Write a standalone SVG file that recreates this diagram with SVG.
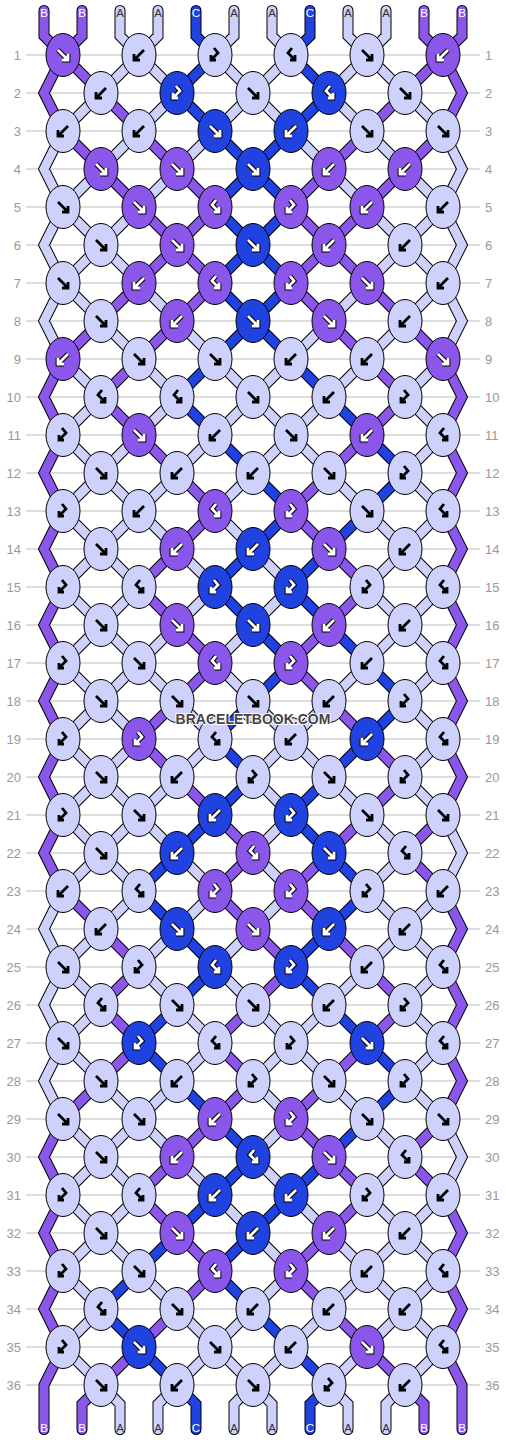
<svg xmlns="http://www.w3.org/2000/svg" width="506" height="1440" viewBox="0 0 506 1440">
<style>
.o{fill:none;stroke:#000;stroke-width:11;stroke-linecap:round;stroke-linejoin:miter}
.cA{fill:none;stroke:#cdd1fb;stroke-width:9;stroke-linecap:round;stroke-linejoin:miter}
.cB{fill:none;stroke:#8b57eb;stroke-width:9;stroke-linecap:round;stroke-linejoin:miter}
.cC{fill:none;stroke:#2042e0;stroke-width:9;stroke-linecap:round;stroke-linejoin:miter}
.kA{fill:#cdd1fb;stroke:#000;stroke-width:1}
.kB{fill:#8b57eb;stroke:#000;stroke-width:1}
.kC{fill:#2042e0;stroke:#000;stroke-width:1}
.ak{fill:none;stroke:#000;stroke-width:2.8}
.ao{fill:none;stroke:#000;stroke-width:4.8}
.aw{fill:none;stroke:#fff;stroke-width:2.8}
.grid{fill:none;stroke:#bbb;stroke-width:1}
.rn{font-family:"Liberation Sans",Arial,sans-serif;font-size:13px;fill:#999}
.l{text-anchor:end}
.tl{font-family:"Liberation Sans",Arial,sans-serif;font-size:11.5px;text-anchor:middle}
.lw{fill:#fff}
.ld{fill:#333}
.wm{font-family:"Liberation Sans",Arial,sans-serif;font-size:14px;font-weight:bold;fill:#444;text-anchor:middle;stroke:#fff;stroke-width:2;paint-order:stroke}
</style>
<defs>
<path id="sB" d="M44 10.5V36L63 55M82 10.5V36L63 55M424 10.5V36L443 55M462 10.5V36L443 55
M63 55l38 38M443 55l-38 38M101 93l38 38M405 93l-38 38M63 131l38 38M139 131l38 38M367 131l-38 38M443 131l-38 38
M101 169l38 38M177 169l38 38M329 169l-38 38M405 169l-38 38M139 207l38 38M215 207l-38 38M291 207l38 38M367 207l-38 38
M177 245l-38 38M177 245l38 38M329 245l-38 38M329 245l38 38M139 283l-38 38M215 283l-38 38M291 283l38 38M367 283l38 38
M101 321l-38 38M177 321l-38 38M329 321l38 38M405 321l38 38M139 359l-38 38M367 359l38 38M101 397l38 38M405 397l-38 38
M139 435l38 38M367 435l-38 38M177 473l38 38M329 473l-38 38M215 511l-38 38M291 511l38 38M177 549l-38 38M329 549l38 38
M139 587l38 38M367 587l-38 38M177 625l38 38M329 625l-38 38M215 663l-38 38M291 663l38 38M177 701l-38 38M329 701l38 38
M139 739l38 38M367 739l38 38M177 777l38 38M405 777l-38 38M215 815l38 38M367 815l-38 38M443 815l-38 38
M253 853l-38 38M329 853l-38 38M405 853l38 38M63 891l38 38M215 891l38 38M291 891l38 38M101 929l38 38M253 929l38 38M329 929l38 38
M139 967l-38 38M291 967l-38 38M367 967l38 38M101 1005l38 38M253 1005l-38 38M405 1005l-38 38M139 1043l-38 38M215 1043l38 38M367 1043l-38 38
M101 1081l-38 38M253 1081l-38 38M329 1081l-38 38M215 1119l-38 38M291 1119l38 38M443 1119l-38 38M177 1157l-38 38M329 1157l38 38M405 1157l38 38
M139 1195l38 38M367 1195l-38 38M177 1233l38 38M329 1233l-38 38M215 1271l-38 38M291 1271l38 38M177 1309l-38 38M329 1309l38 38
M139 1347l-38 38M367 1347l38 38M101 1385L82 1404V1429.5M405 1385L424 1404V1429.5
M63 55L44 93L63 131M63 359L44 397L63 435M63 435L44 473L63 511M63 511L44 549L63 587M63 587L44 625L63 663M63 663L44 701L63 739M63 739L44 777L63 815M63 815L44 853L63 891M63 1119L44 1157L63 1195M63 1195L44 1233L63 1271M63 1271L44 1309L63 1347M63 1347L44 1385V1429.5
M443 55L462 93L443 131M443 359L462 397L443 435M443 435L462 473L443 511M443 511L462 549L443 587M443 587L462 625L443 663M443 663L462 701L443 739M443 739L462 777L443 815M443 891L462 929L443 967M443 967L462 1005L443 1043M443 1043L462 1081L443 1119M443 1195L462 1233L443 1271M443 1271L462 1309L443 1347M443 1347L462 1385V1429.5"/>
<path id="sA" d="M120 10.5V36L139 55M158 10.5V36L139 55M234 10.5V36L215 55M272 10.5V36L291 55M348 10.5V36L367 55M386 10.5V36L367 55
M139 55l-38 38M139 55l38 38M215 55l38 38M291 55l-38 38M367 55l-38 38M367 55l38 38
M101 93l-38 38M177 93l-38 38M253 93l-38 38M253 93l38 38M329 93l38 38M405 93l38 38
M139 131l-38 38M215 131l-38 38M291 131l38 38M367 131l38 38
M101 169l-38 38M177 169l-38 38M329 169l38 38M405 169l38 38
M63 207l38 38M139 207l-38 38M367 207l38 38M443 207l-38 38
M101 245l-38 38M101 245l38 38M405 245l-38 38M405 245l38 38
M63 283l38 38M139 283l38 38M367 283l-38 38M443 283l-38 38
M101 321l38 38M177 321l38 38M329 321l-38 38M405 321l-38 38
M63 359l38 38M139 359l38 38M215 359l38 38M291 359l-38 38M367 359l-38 38M443 359l-38 38
M101 397l-38 38M177 397l-38 38M253 397l-38 38M253 397l38 38M329 397l-38 38M405 397l38 38
M63 435l38 38M139 435l-38 38M215 435l-38 38M291 435l-38 38M291 435l38 38M443 435l-38 38
M101 473l-38 38M101 473l38 38M177 473l-38 38M253 473l-38 38M329 473l38 38M405 473l38 38
M63 511l38 38M139 511l-38 38M139 511l38 38M215 511l38 38M367 511l38 38M443 511l-38 38
M101 549l-38 38M101 549l38 38M177 549l38 38M253 549l38 38M405 549l-38 38M405 549l38 38
M63 587l38 38M139 587l-38 38M215 587l-38 38M291 587l-38 38M367 587l38 38M443 587l-38 38
M101 625l-38 38M101 625l38 38M177 625l-38 38M253 625l-38 38M405 625l-38 38M405 625l38 38
M63 663l38 38M139 663l-38 38M139 663l38 38M215 663l38 38M367 663l-38 38M443 663l-38 38
M101 701l-38 38M101 701l38 38M177 701l38 38M253 701l38 38M329 701l-38 38M405 701l38 38
M63 739l38 38M139 739l-38 38M215 739l-38 38M291 739l-38 38M291 739l38 38M443 739l-38 38
M101 777l-38 38M101 777l38 38M177 777l-38 38M253 777l38 38M329 777l38 38M405 777l38 38
M63 815l38 38M139 815l-38 38M139 815l38 38M291 815l-38 38M367 815l38 38
M101 853l-38 38M101 853l38 38M177 853l38 38M253 853l38 38M405 853l-38 38
M139 891l-38 38M215 891l-38 38M291 891l-38 38M367 891l38 38M443 891l-38 38
M101 929l-38 38M177 929l-38 38M253 929l-38 38M405 929l-38 38M405 929l38 38
M63 967l38 38M139 967l38 38M215 967l38 38M367 967l-38 38M443 967l-38 38
M101 1005l-38 38M177 1005l38 38M253 1005l38 38M329 1005l-38 38M405 1005l38 38
M63 1043l38 38M215 1043l-38 38M291 1043l-38 38M291 1043l38 38M443 1043l-38 38
M101 1081l38 38M177 1081l-38 38M253 1081l38 38M329 1081l38 38M405 1081l38 38
M63 1119l38 38M139 1119l-38 38M139 1119l38 38M291 1119l-38 38M367 1119l38 38
M101 1157l-38 38M101 1157l38 38M177 1157l38 38M253 1157l38 38M405 1157l-38 38
M63 1195l38 38M139 1195l-38 38M215 1195l38 38M291 1195l38 38M367 1195l38 38M443 1195l-38 38
M101 1233l-38 38M101 1233l38 38M253 1233l38 38M329 1233l38 38M405 1233l-38 38M405 1233l38 38
M63 1271l38 38M139 1271l38 38M291 1271l-38 38M367 1271l-38 38M367 1271l38 38M443 1271l-38 38
M101 1309l-38 38M177 1309l38 38M253 1309l-38 38M329 1309l-38 38M405 1309l-38 38M405 1309l38 38
M63 1347l38 38M215 1347l-38 38M215 1347l38 38M291 1347l-38 38M367 1347l-38 38M443 1347l-38 38
M101 1385L120 1404V1429.5M177 1385L158 1404V1429.5M253 1385L234 1404V1429.5M253 1385L272 1404V1429.5M329 1385L348 1404V1429.5M405 1385L386 1404V1429.5
M63 131L44 169L63 207M63 207L44 245L63 283M63 283L44 321L63 359M63 891L44 929L63 967M63 967L44 1005L63 1043M63 1043L44 1081L63 1119
M443 131L462 169L443 207M443 207L462 245L443 283M443 283L462 321L443 359M443 815L462 853L443 891M443 1119L462 1157L443 1195"/>
<path id="sC" d="M196 10.5V36L215 55M310 10.5V36L291 55
M215 55l-38 38M291 55l38 38M177 93l38 38M329 93l-38 38M215 131l38 38M291 131l-38 38M253 169l-38 38M253 169l38 38
M215 207l38 38M291 207l-38 38M253 245l-38 38M253 245l38 38M215 283l38 38M291 283l-38 38M253 321l-38 38M253 321l38 38
M215 359l-38 38M291 359l38 38M177 397l38 38M329 397l38 38M215 435l38 38M367 435l38 38M253 473l38 38M405 473l-38 38
M291 511l-38 38M367 511l-38 38M253 549l-38 38M329 549l-38 38M215 587l38 38M291 587l38 38M253 625l38 38M329 625l38 38
M291 663l-38 38M367 663l38 38M253 701l-38 38M405 701l-38 38M215 739l38 38M367 739l-38 38M253 777l-38 38M329 777l-38 38
M215 815l-38 38M291 815l38 38M177 853l-38 38M329 853l38 38M139 891l38 38M367 891l-38 38M177 929l38 38M329 929l-38 38
M215 967l-38 38M291 967l38 38M177 1005l-38 38M329 1005l38 38M139 1043l38 38M367 1043l38 38M177 1081l38 38M405 1081l-38 38
M215 1119l38 38M367 1119l-38 38M253 1157l-38 38M329 1157l-38 38M215 1195l-38 38M291 1195l-38 38M177 1233l-38 38M253 1233l-38 38
M139 1271l-38 38M215 1271l38 38M101 1309l38 38M253 1309l38 38M139 1347l38 38M291 1347l38 38
M177 1385L196 1404V1429.5M329 1385L310 1404V1429.5"/>
<ellipse id="e" rx="17" ry="21.5"/>
<path id="pF" d="M-5 -5L5 5M-1 5H5V-1"/>
<path id="pK" d="M5 -5L-5 5M1 5H-5V-1"/>
<path id="pP" d="M1 -7L-3 -2L4 5M-1 5H4V0"/>
<path id="pQ" d="M-1 -7L3 -2L-4 5M1 5H-4V0"/>
<g id="F"><use href="#pF" class="ak"/></g>
<g id="K"><use href="#pK" class="ak"/></g>
<g id="P"><use href="#pP" class="ak"/></g>
<g id="Q"><use href="#pQ" class="ak"/></g>
<g id="Fw"><use href="#pF" class="ao"/><use href="#pF" class="aw"/></g>
<g id="Kw"><use href="#pK" class="ao"/><use href="#pK" class="aw"/></g>
<g id="Pw"><use href="#pP" class="ao"/><use href="#pP" class="aw"/></g>
<g id="Qw"><use href="#pQ" class="ao"/><use href="#pQ" class="aw"/></g>
</defs>
<rect width="506" height="1440" fill="#fff"/>
<g id="grid">
<path class="grid" d="M26 55H480M26 93H480M26 131H480M26 169H480M26 207H480M26 245H480M26 283H480M26 321H480M26 359H480M26 397H480M26 435H480M26 473H480M26 511H480M26 549H480M26 587H480M26 625H480M26 663H480M26 701H480M26 739H480M26 777H480M26 815H480M26 853H480M26 891H480M26 929H480M26 967H480M26 1005H480M26 1043H480M26 1081H480M26 1119H480M26 1157H480M26 1195H480M26 1233H480M26 1271H480M26 1309H480M26 1347H480M26 1385H480"/>
<g class="rn l">
<text x="21" y="60">1</text><text x="21" y="98">2</text><text x="21" y="136">3</text><text x="21" y="174">4</text><text x="21" y="212">5</text><text x="21" y="250">6</text><text x="21" y="288">7</text><text x="21" y="326">8</text><text x="21" y="364">9</text><text x="21" y="402">10</text><text x="21" y="440">11</text><text x="21" y="478">12</text><text x="21" y="516">13</text><text x="21" y="554">14</text><text x="21" y="592">15</text><text x="21" y="630">16</text><text x="21" y="668">17</text><text x="21" y="706">18</text><text x="21" y="744">19</text><text x="21" y="782">20</text><text x="21" y="820">21</text><text x="21" y="858">22</text><text x="21" y="896">23</text><text x="21" y="934">24</text><text x="21" y="972">25</text><text x="21" y="1010">26</text><text x="21" y="1048">27</text><text x="21" y="1086">28</text><text x="21" y="1124">29</text><text x="21" y="1162">30</text><text x="21" y="1200">31</text><text x="21" y="1238">32</text><text x="21" y="1276">33</text><text x="21" y="1314">34</text><text x="21" y="1352">35</text><text x="21" y="1390">36</text>
</g>
<g class="rn">
<text x="485" y="60">1</text><text x="485" y="98">2</text><text x="485" y="136">3</text><text x="485" y="174">4</text><text x="485" y="212">5</text><text x="485" y="250">6</text><text x="485" y="288">7</text><text x="485" y="326">8</text><text x="485" y="364">9</text><text x="485" y="402">10</text><text x="485" y="440">11</text><text x="485" y="478">12</text><text x="485" y="516">13</text><text x="485" y="554">14</text><text x="485" y="592">15</text><text x="485" y="630">16</text><text x="485" y="668">17</text><text x="485" y="706">18</text><text x="485" y="744">19</text><text x="485" y="782">20</text><text x="485" y="820">21</text><text x="485" y="858">22</text><text x="485" y="896">23</text><text x="485" y="934">24</text><text x="485" y="972">25</text><text x="485" y="1010">26</text><text x="485" y="1048">27</text><text x="485" y="1086">28</text><text x="485" y="1124">29</text><text x="485" y="1162">30</text><text x="485" y="1200">31</text><text x="485" y="1238">32</text><text x="485" y="1276">33</text><text x="485" y="1314">34</text><text x="485" y="1352">35</text><text x="485" y="1390">36</text>
</g>
</g>
<g id="connectors">
<use href="#sA" class="o"/><use href="#sB" class="o"/><use href="#sC" class="o"/>
<use href="#sA" class="cA"/><use href="#sB" class="cB"/><use href="#sC" class="cC"/>
</g>
<g id="string-labels" class="tl">
<text class="lw" x="44" y="16.5">B</text><text class="lw" x="82" y="16.5">B</text><text class="ld" x="120" y="16.5">A</text><text class="ld" x="158" y="16.5">A</text><text class="lw" x="196" y="16.5">C</text><text class="ld" x="234" y="16.5">A</text><text class="ld" x="272" y="16.5">A</text><text class="lw" x="310" y="16.5">C</text><text class="ld" x="348" y="16.5">A</text><text class="ld" x="386" y="16.5">A</text><text class="lw" x="424" y="16.5">B</text><text class="lw" x="462" y="16.5">B</text>
<text class="lw" x="44" y="1432">B</text><text class="lw" x="82" y="1432">B</text><text class="ld" x="120" y="1432">A</text><text class="ld" x="158" y="1432">A</text><text class="lw" x="196" y="1432">C</text><text class="ld" x="234" y="1432">A</text><text class="ld" x="272" y="1432">A</text><text class="lw" x="310" y="1432">C</text><text class="ld" x="348" y="1432">A</text><text class="ld" x="386" y="1432">A</text><text class="lw" x="424" y="1432">B</text><text class="lw" x="462" y="1432">B</text>
</g>
<g id="knots">
<g id="r1k1" transform="translate(63 55)"><use href="#e" class="kB"/><use href="#Fw"/></g>
<g id="r1k2" transform="translate(139 55)"><use href="#e" class="kA"/><use href="#K"/></g>
<g id="r1k3" transform="translate(215 55)"><use href="#e" class="kA"/><use href="#Q"/></g>
<g id="r1k4" transform="translate(291 55)"><use href="#e" class="kA"/><use href="#P"/></g>
<g id="r1k5" transform="translate(367 55)"><use href="#e" class="kA"/><use href="#F"/></g>
<g id="r1k6" transform="translate(443 55)"><use href="#e" class="kB"/><use href="#Kw"/></g>
<g id="r2k1" transform="translate(101 93)"><use href="#e" class="kA"/><use href="#K"/></g>
<g id="r2k2" transform="translate(177 93)"><use href="#e" class="kC"/><use href="#Qw"/></g>
<g id="r2k3" transform="translate(253 93)"><use href="#e" class="kA"/><use href="#F"/></g>
<g id="r2k4" transform="translate(329 93)"><use href="#e" class="kC"/><use href="#Pw"/></g>
<g id="r2k5" transform="translate(405 93)"><use href="#e" class="kA"/><use href="#F"/></g>
<g id="r3k1" transform="translate(63 131)"><use href="#e" class="kA"/><use href="#K"/></g>
<g id="r3k2" transform="translate(139 131)"><use href="#e" class="kA"/><use href="#K"/></g>
<g id="r3k3" transform="translate(215 131)"><use href="#e" class="kC"/><use href="#Fw"/></g>
<g id="r3k4" transform="translate(291 131)"><use href="#e" class="kC"/><use href="#Kw"/></g>
<g id="r3k5" transform="translate(367 131)"><use href="#e" class="kA"/><use href="#F"/></g>
<g id="r3k6" transform="translate(443 131)"><use href="#e" class="kA"/><use href="#F"/></g>
<g id="r4k1" transform="translate(101 169)"><use href="#e" class="kB"/><use href="#Fw"/></g>
<g id="r4k2" transform="translate(177 169)"><use href="#e" class="kB"/><use href="#Fw"/></g>
<g id="r4k3" transform="translate(253 169)"><use href="#e" class="kC"/><use href="#Fw"/></g>
<g id="r4k4" transform="translate(329 169)"><use href="#e" class="kB"/><use href="#Kw"/></g>
<g id="r4k5" transform="translate(405 169)"><use href="#e" class="kB"/><use href="#Kw"/></g>
<g id="r5k1" transform="translate(63 207)"><use href="#e" class="kA"/><use href="#F"/></g>
<g id="r5k2" transform="translate(139 207)"><use href="#e" class="kB"/><use href="#Fw"/></g>
<g id="r5k3" transform="translate(215 207)"><use href="#e" class="kB"/><use href="#Pw"/></g>
<g id="r5k4" transform="translate(291 207)"><use href="#e" class="kB"/><use href="#Qw"/></g>
<g id="r5k5" transform="translate(367 207)"><use href="#e" class="kB"/><use href="#Kw"/></g>
<g id="r5k6" transform="translate(443 207)"><use href="#e" class="kA"/><use href="#K"/></g>
<g id="r6k1" transform="translate(101 245)"><use href="#e" class="kA"/><use href="#F"/></g>
<g id="r6k2" transform="translate(177 245)"><use href="#e" class="kB"/><use href="#Fw"/></g>
<g id="r6k3" transform="translate(253 245)"><use href="#e" class="kC"/><use href="#Fw"/></g>
<g id="r6k4" transform="translate(329 245)"><use href="#e" class="kB"/><use href="#Kw"/></g>
<g id="r6k5" transform="translate(405 245)"><use href="#e" class="kA"/><use href="#K"/></g>
<g id="r7k1" transform="translate(63 283)"><use href="#e" class="kA"/><use href="#F"/></g>
<g id="r7k2" transform="translate(139 283)"><use href="#e" class="kB"/><use href="#Kw"/></g>
<g id="r7k3" transform="translate(215 283)"><use href="#e" class="kB"/><use href="#Pw"/></g>
<g id="r7k4" transform="translate(291 283)"><use href="#e" class="kB"/><use href="#Qw"/></g>
<g id="r7k5" transform="translate(367 283)"><use href="#e" class="kB"/><use href="#Fw"/></g>
<g id="r7k6" transform="translate(443 283)"><use href="#e" class="kA"/><use href="#K"/></g>
<g id="r8k1" transform="translate(101 321)"><use href="#e" class="kA"/><use href="#F"/></g>
<g id="r8k2" transform="translate(177 321)"><use href="#e" class="kB"/><use href="#Kw"/></g>
<g id="r8k3" transform="translate(253 321)"><use href="#e" class="kC"/><use href="#Fw"/></g>
<g id="r8k4" transform="translate(329 321)"><use href="#e" class="kB"/><use href="#Fw"/></g>
<g id="r8k5" transform="translate(405 321)"><use href="#e" class="kA"/><use href="#K"/></g>
<g id="r9k1" transform="translate(63 359)"><use href="#e" class="kB"/><use href="#Kw"/></g>
<g id="r9k2" transform="translate(139 359)"><use href="#e" class="kA"/><use href="#F"/></g>
<g id="r9k3" transform="translate(215 359)"><use href="#e" class="kA"/><use href="#F"/></g>
<g id="r9k4" transform="translate(291 359)"><use href="#e" class="kA"/><use href="#K"/></g>
<g id="r9k5" transform="translate(367 359)"><use href="#e" class="kA"/><use href="#K"/></g>
<g id="r9k6" transform="translate(443 359)"><use href="#e" class="kB"/><use href="#Fw"/></g>
<g id="r10k1" transform="translate(101 397)"><use href="#e" class="kA"/><use href="#P"/></g>
<g id="r10k2" transform="translate(177 397)"><use href="#e" class="kA"/><use href="#P"/></g>
<g id="r10k3" transform="translate(253 397)"><use href="#e" class="kA"/><use href="#F"/></g>
<g id="r10k4" transform="translate(329 397)"><use href="#e" class="kA"/><use href="#K"/></g>
<g id="r10k5" transform="translate(405 397)"><use href="#e" class="kA"/><use href="#Q"/></g>
<g id="r11k1" transform="translate(63 435)"><use href="#e" class="kA"/><use href="#Q"/></g>
<g id="r11k2" transform="translate(139 435)"><use href="#e" class="kB"/><use href="#Fw"/></g>
<g id="r11k3" transform="translate(215 435)"><use href="#e" class="kA"/><use href="#K"/></g>
<g id="r11k4" transform="translate(291 435)"><use href="#e" class="kA"/><use href="#F"/></g>
<g id="r11k5" transform="translate(367 435)"><use href="#e" class="kB"/><use href="#Kw"/></g>
<g id="r11k6" transform="translate(443 435)"><use href="#e" class="kA"/><use href="#P"/></g>
<g id="r12k1" transform="translate(101 473)"><use href="#e" class="kA"/><use href="#F"/></g>
<g id="r12k2" transform="translate(177 473)"><use href="#e" class="kA"/><use href="#K"/></g>
<g id="r12k3" transform="translate(253 473)"><use href="#e" class="kA"/><use href="#K"/></g>
<g id="r12k4" transform="translate(329 473)"><use href="#e" class="kA"/><use href="#F"/></g>
<g id="r12k5" transform="translate(405 473)"><use href="#e" class="kA"/><use href="#Q"/></g>
<g id="r13k1" transform="translate(63 511)"><use href="#e" class="kA"/><use href="#Q"/></g>
<g id="r13k2" transform="translate(139 511)"><use href="#e" class="kA"/><use href="#K"/></g>
<g id="r13k3" transform="translate(215 511)"><use href="#e" class="kB"/><use href="#Pw"/></g>
<g id="r13k4" transform="translate(291 511)"><use href="#e" class="kB"/><use href="#Qw"/></g>
<g id="r13k5" transform="translate(367 511)"><use href="#e" class="kA"/><use href="#F"/></g>
<g id="r13k6" transform="translate(443 511)"><use href="#e" class="kA"/><use href="#P"/></g>
<g id="r14k1" transform="translate(101 549)"><use href="#e" class="kA"/><use href="#F"/></g>
<g id="r14k2" transform="translate(177 549)"><use href="#e" class="kB"/><use href="#Kw"/></g>
<g id="r14k3" transform="translate(253 549)"><use href="#e" class="kC"/><use href="#Kw"/></g>
<g id="r14k4" transform="translate(329 549)"><use href="#e" class="kB"/><use href="#Fw"/></g>
<g id="r14k5" transform="translate(405 549)"><use href="#e" class="kA"/><use href="#K"/></g>
<g id="r15k1" transform="translate(63 587)"><use href="#e" class="kA"/><use href="#Q"/></g>
<g id="r15k2" transform="translate(139 587)"><use href="#e" class="kA"/><use href="#P"/></g>
<g id="r15k3" transform="translate(215 587)"><use href="#e" class="kC"/><use href="#Qw"/></g>
<g id="r15k4" transform="translate(291 587)"><use href="#e" class="kC"/><use href="#Qw"/></g>
<g id="r15k5" transform="translate(367 587)"><use href="#e" class="kA"/><use href="#Q"/></g>
<g id="r15k6" transform="translate(443 587)"><use href="#e" class="kA"/><use href="#P"/></g>
<g id="r16k1" transform="translate(101 625)"><use href="#e" class="kA"/><use href="#F"/></g>
<g id="r16k2" transform="translate(177 625)"><use href="#e" class="kB"/><use href="#Fw"/></g>
<g id="r16k3" transform="translate(253 625)"><use href="#e" class="kC"/><use href="#Fw"/></g>
<g id="r16k4" transform="translate(329 625)"><use href="#e" class="kB"/><use href="#Kw"/></g>
<g id="r16k5" transform="translate(405 625)"><use href="#e" class="kA"/><use href="#K"/></g>
<g id="r17k1" transform="translate(63 663)"><use href="#e" class="kA"/><use href="#Q"/></g>
<g id="r17k2" transform="translate(139 663)"><use href="#e" class="kA"/><use href="#F"/></g>
<g id="r17k3" transform="translate(215 663)"><use href="#e" class="kB"/><use href="#Pw"/></g>
<g id="r17k4" transform="translate(291 663)"><use href="#e" class="kB"/><use href="#Qw"/></g>
<g id="r17k5" transform="translate(367 663)"><use href="#e" class="kA"/><use href="#K"/></g>
<g id="r17k6" transform="translate(443 663)"><use href="#e" class="kA"/><use href="#P"/></g>
<g id="r18k1" transform="translate(101 701)"><use href="#e" class="kA"/><use href="#F"/></g>
<g id="r18k2" transform="translate(177 701)"><use href="#e" class="kA"/><use href="#F"/></g>
<g id="r18k3" transform="translate(253 701)"><use href="#e" class="kA"/><use href="#F"/></g>
<g id="r18k4" transform="translate(329 701)"><use href="#e" class="kA"/><use href="#K"/></g>
<g id="r18k5" transform="translate(405 701)"><use href="#e" class="kA"/><use href="#Q"/></g>
<g id="r19k1" transform="translate(63 739)"><use href="#e" class="kA"/><use href="#Q"/></g>
<g id="r19k2" transform="translate(139 739)"><use href="#e" class="kB"/><use href="#Qw"/></g>
<g id="r19k3" transform="translate(215 739)"><use href="#e" class="kA"/><use href="#P"/></g>
<g id="r19k4" transform="translate(291 739)"><use href="#e" class="kA"/><use href="#K"/></g>
<g id="r19k5" transform="translate(367 739)"><use href="#e" class="kC"/><use href="#Kw"/></g>
<g id="r19k6" transform="translate(443 739)"><use href="#e" class="kA"/><use href="#P"/></g>
<g id="r20k1" transform="translate(101 777)"><use href="#e" class="kA"/><use href="#F"/></g>
<g id="r20k2" transform="translate(177 777)"><use href="#e" class="kA"/><use href="#K"/></g>
<g id="r20k3" transform="translate(253 777)"><use href="#e" class="kA"/><use href="#Q"/></g>
<g id="r20k4" transform="translate(329 777)"><use href="#e" class="kA"/><use href="#F"/></g>
<g id="r20k5" transform="translate(405 777)"><use href="#e" class="kA"/><use href="#Q"/></g>
<g id="r21k1" transform="translate(63 815)"><use href="#e" class="kA"/><use href="#Q"/></g>
<g id="r21k2" transform="translate(139 815)"><use href="#e" class="kA"/><use href="#F"/></g>
<g id="r21k3" transform="translate(215 815)"><use href="#e" class="kC"/><use href="#Kw"/></g>
<g id="r21k4" transform="translate(291 815)"><use href="#e" class="kC"/><use href="#Qw"/></g>
<g id="r21k5" transform="translate(367 815)"><use href="#e" class="kA"/><use href="#F"/></g>
<g id="r21k6" transform="translate(443 815)"><use href="#e" class="kA"/><use href="#F"/></g>
<g id="r22k1" transform="translate(101 853)"><use href="#e" class="kA"/><use href="#F"/></g>
<g id="r22k2" transform="translate(177 853)"><use href="#e" class="kC"/><use href="#Kw"/></g>
<g id="r22k3" transform="translate(253 853)"><use href="#e" class="kB"/><use href="#Pw"/></g>
<g id="r22k4" transform="translate(329 853)"><use href="#e" class="kC"/><use href="#Fw"/></g>
<g id="r22k5" transform="translate(405 853)"><use href="#e" class="kA"/><use href="#P"/></g>
<g id="r23k1" transform="translate(63 891)"><use href="#e" class="kA"/><use href="#K"/></g>
<g id="r23k2" transform="translate(139 891)"><use href="#e" class="kA"/><use href="#P"/></g>
<g id="r23k3" transform="translate(215 891)"><use href="#e" class="kB"/><use href="#Qw"/></g>
<g id="r23k4" transform="translate(291 891)"><use href="#e" class="kB"/><use href="#Qw"/></g>
<g id="r23k5" transform="translate(367 891)"><use href="#e" class="kA"/><use href="#Q"/></g>
<g id="r23k6" transform="translate(443 891)"><use href="#e" class="kA"/><use href="#K"/></g>
<g id="r24k1" transform="translate(101 929)"><use href="#e" class="kA"/><use href="#K"/></g>
<g id="r24k2" transform="translate(177 929)"><use href="#e" class="kC"/><use href="#Fw"/></g>
<g id="r24k3" transform="translate(253 929)"><use href="#e" class="kB"/><use href="#Fw"/></g>
<g id="r24k4" transform="translate(329 929)"><use href="#e" class="kC"/><use href="#Kw"/></g>
<g id="r24k5" transform="translate(405 929)"><use href="#e" class="kA"/><use href="#K"/></g>
<g id="r25k1" transform="translate(63 967)"><use href="#e" class="kA"/><use href="#F"/></g>
<g id="r25k2" transform="translate(139 967)"><use href="#e" class="kA"/><use href="#Q"/></g>
<g id="r25k3" transform="translate(215 967)"><use href="#e" class="kC"/><use href="#Pw"/></g>
<g id="r25k4" transform="translate(291 967)"><use href="#e" class="kC"/><use href="#Qw"/></g>
<g id="r25k5" transform="translate(367 967)"><use href="#e" class="kA"/><use href="#K"/></g>
<g id="r25k6" transform="translate(443 967)"><use href="#e" class="kA"/><use href="#P"/></g>
<g id="r26k1" transform="translate(101 1005)"><use href="#e" class="kA"/><use href="#P"/></g>
<g id="r26k2" transform="translate(177 1005)"><use href="#e" class="kA"/><use href="#F"/></g>
<g id="r26k3" transform="translate(253 1005)"><use href="#e" class="kA"/><use href="#F"/></g>
<g id="r26k4" transform="translate(329 1005)"><use href="#e" class="kA"/><use href="#K"/></g>
<g id="r26k5" transform="translate(405 1005)"><use href="#e" class="kA"/><use href="#Q"/></g>
<g id="r27k1" transform="translate(63 1043)"><use href="#e" class="kA"/><use href="#F"/></g>
<g id="r27k2" transform="translate(139 1043)"><use href="#e" class="kC"/><use href="#Qw"/></g>
<g id="r27k3" transform="translate(215 1043)"><use href="#e" class="kA"/><use href="#P"/></g>
<g id="r27k4" transform="translate(291 1043)"><use href="#e" class="kA"/><use href="#Q"/></g>
<g id="r27k5" transform="translate(367 1043)"><use href="#e" class="kC"/><use href="#Fw"/></g>
<g id="r27k6" transform="translate(443 1043)"><use href="#e" class="kA"/><use href="#P"/></g>
<g id="r28k1" transform="translate(101 1081)"><use href="#e" class="kA"/><use href="#F"/></g>
<g id="r28k2" transform="translate(177 1081)"><use href="#e" class="kA"/><use href="#K"/></g>
<g id="r28k3" transform="translate(253 1081)"><use href="#e" class="kA"/><use href="#Q"/></g>
<g id="r28k4" transform="translate(329 1081)"><use href="#e" class="kA"/><use href="#F"/></g>
<g id="r28k5" transform="translate(405 1081)"><use href="#e" class="kA"/><use href="#Q"/></g>
<g id="r29k1" transform="translate(63 1119)"><use href="#e" class="kA"/><use href="#F"/></g>
<g id="r29k2" transform="translate(139 1119)"><use href="#e" class="kA"/><use href="#F"/></g>
<g id="r29k3" transform="translate(215 1119)"><use href="#e" class="kB"/><use href="#Kw"/></g>
<g id="r29k4" transform="translate(291 1119)"><use href="#e" class="kB"/><use href="#Qw"/></g>
<g id="r29k5" transform="translate(367 1119)"><use href="#e" class="kA"/><use href="#F"/></g>
<g id="r29k6" transform="translate(443 1119)"><use href="#e" class="kA"/><use href="#F"/></g>
<g id="r30k1" transform="translate(101 1157)"><use href="#e" class="kA"/><use href="#F"/></g>
<g id="r30k2" transform="translate(177 1157)"><use href="#e" class="kB"/><use href="#Kw"/></g>
<g id="r30k3" transform="translate(253 1157)"><use href="#e" class="kC"/><use href="#Pw"/></g>
<g id="r30k4" transform="translate(329 1157)"><use href="#e" class="kB"/><use href="#Fw"/></g>
<g id="r30k5" transform="translate(405 1157)"><use href="#e" class="kA"/><use href="#P"/></g>
<g id="r31k1" transform="translate(63 1195)"><use href="#e" class="kA"/><use href="#Q"/></g>
<g id="r31k2" transform="translate(139 1195)"><use href="#e" class="kA"/><use href="#P"/></g>
<g id="r31k3" transform="translate(215 1195)"><use href="#e" class="kC"/><use href="#Kw"/></g>
<g id="r31k4" transform="translate(291 1195)"><use href="#e" class="kC"/><use href="#Kw"/></g>
<g id="r31k5" transform="translate(367 1195)"><use href="#e" class="kA"/><use href="#Q"/></g>
<g id="r31k6" transform="translate(443 1195)"><use href="#e" class="kA"/><use href="#K"/></g>
<g id="r32k1" transform="translate(101 1233)"><use href="#e" class="kA"/><use href="#F"/></g>
<g id="r32k2" transform="translate(177 1233)"><use href="#e" class="kB"/><use href="#Fw"/></g>
<g id="r32k3" transform="translate(253 1233)"><use href="#e" class="kC"/><use href="#Kw"/></g>
<g id="r32k4" transform="translate(329 1233)"><use href="#e" class="kB"/><use href="#Kw"/></g>
<g id="r32k5" transform="translate(405 1233)"><use href="#e" class="kA"/><use href="#K"/></g>
<g id="r33k1" transform="translate(63 1271)"><use href="#e" class="kA"/><use href="#Q"/></g>
<g id="r33k2" transform="translate(139 1271)"><use href="#e" class="kA"/><use href="#F"/></g>
<g id="r33k3" transform="translate(215 1271)"><use href="#e" class="kB"/><use href="#Pw"/></g>
<g id="r33k4" transform="translate(291 1271)"><use href="#e" class="kB"/><use href="#Qw"/></g>
<g id="r33k5" transform="translate(367 1271)"><use href="#e" class="kA"/><use href="#K"/></g>
<g id="r33k6" transform="translate(443 1271)"><use href="#e" class="kA"/><use href="#P"/></g>
<g id="r34k1" transform="translate(101 1309)"><use href="#e" class="kA"/><use href="#P"/></g>
<g id="r34k2" transform="translate(177 1309)"><use href="#e" class="kA"/><use href="#F"/></g>
<g id="r34k3" transform="translate(253 1309)"><use href="#e" class="kA"/><use href="#K"/></g>
<g id="r34k4" transform="translate(329 1309)"><use href="#e" class="kA"/><use href="#K"/></g>
<g id="r34k5" transform="translate(405 1309)"><use href="#e" class="kA"/><use href="#K"/></g>
<g id="r35k1" transform="translate(63 1347)"><use href="#e" class="kA"/><use href="#Q"/></g>
<g id="r35k2" transform="translate(139 1347)"><use href="#e" class="kC"/><use href="#Fw"/></g>
<g id="r35k3" transform="translate(215 1347)"><use href="#e" class="kA"/><use href="#F"/></g>
<g id="r35k4" transform="translate(291 1347)"><use href="#e" class="kA"/><use href="#K"/></g>
<g id="r35k5" transform="translate(367 1347)"><use href="#e" class="kB"/><use href="#Fw"/></g>
<g id="r35k6" transform="translate(443 1347)"><use href="#e" class="kA"/><use href="#P"/></g>
<g id="r36k1" transform="translate(101 1385)"><use href="#e" class="kA"/><use href="#F"/></g>
<g id="r36k2" transform="translate(177 1385)"><use href="#e" class="kA"/><use href="#K"/></g>
<g id="r36k3" transform="translate(253 1385)"><use href="#e" class="kA"/><use href="#F"/></g>
<g id="r36k4" transform="translate(329 1385)"><use href="#e" class="kA"/><use href="#Q"/></g>
<g id="r36k5" transform="translate(405 1385)"><use href="#e" class="kA"/><use href="#K"/></g>
</g>
<text id="watermark" class="wm" x="253" y="724">BRACELETBOOK.COM</text>
</svg>
